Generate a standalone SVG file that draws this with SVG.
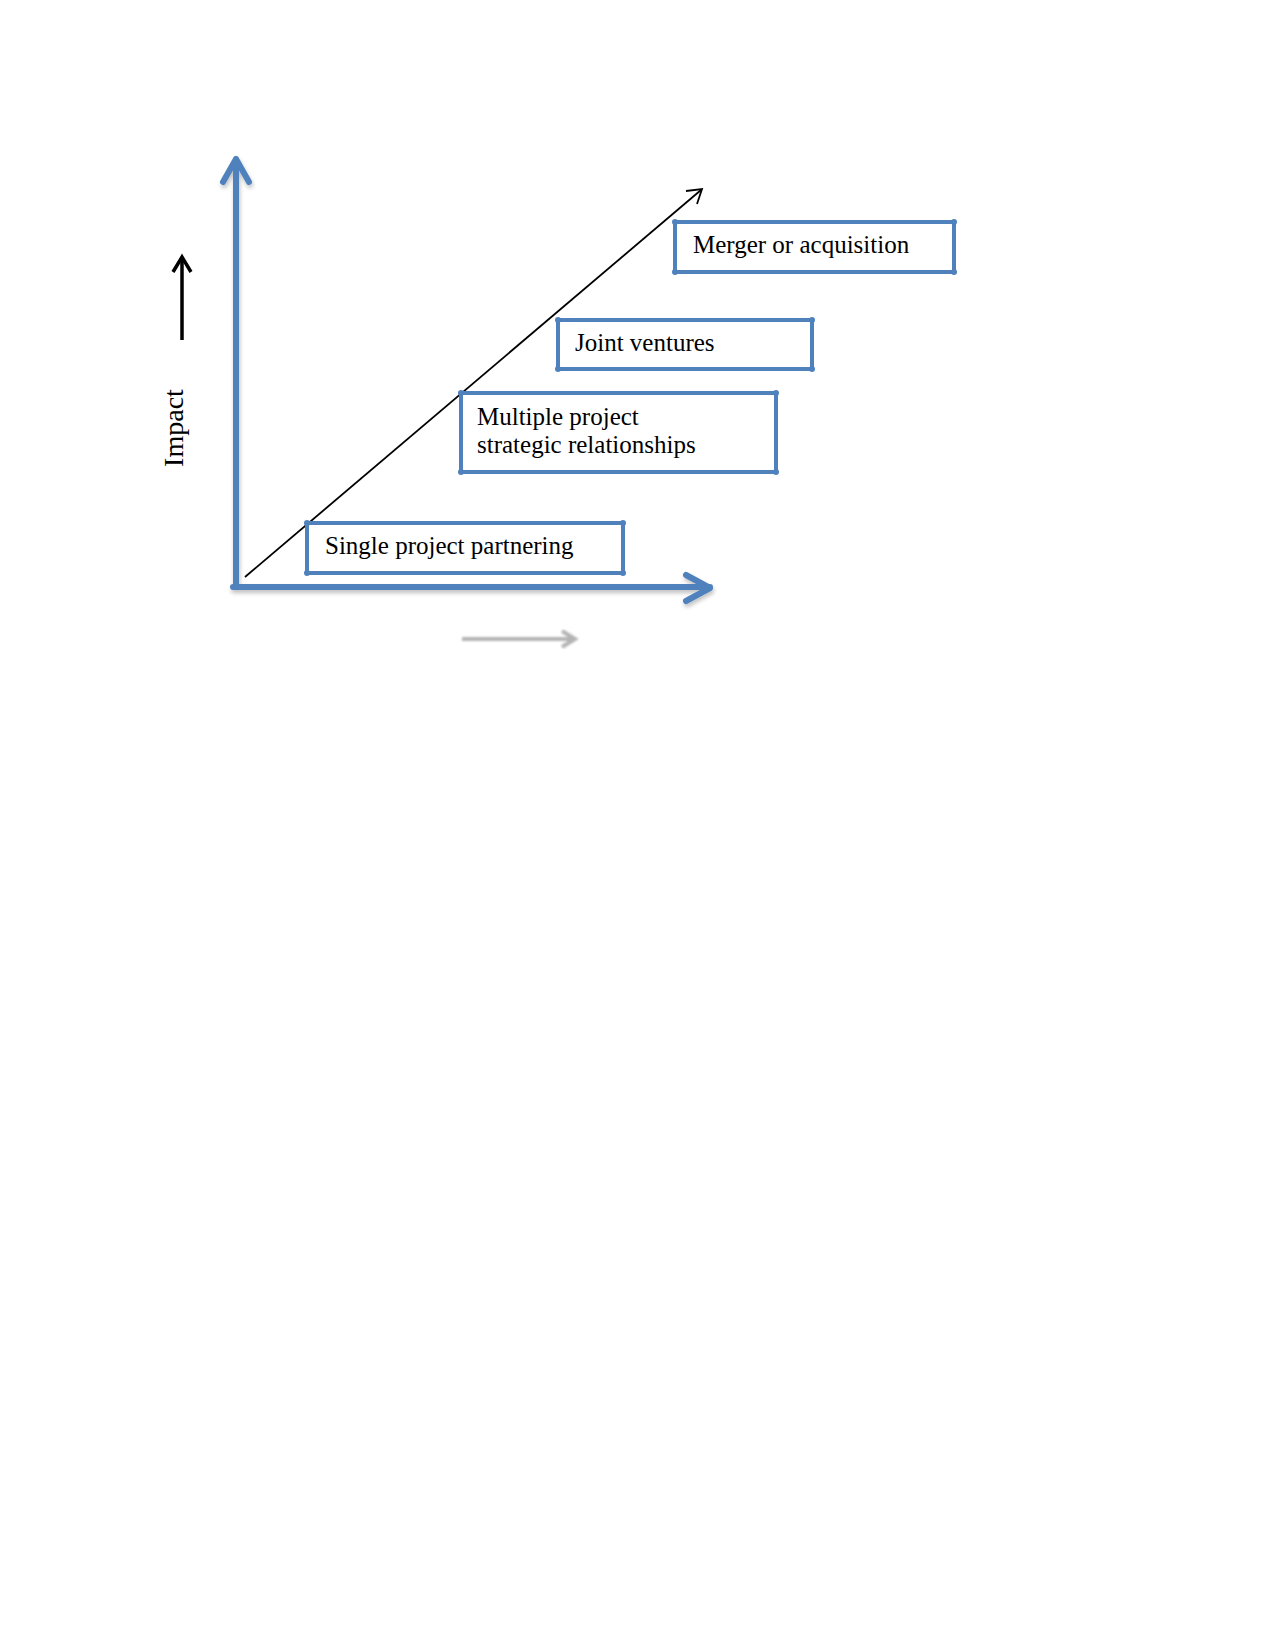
<svg xmlns="http://www.w3.org/2000/svg" width="1275" height="1651" viewBox="0 0 1275 1651">
<style>
.box{fill:#fff;stroke:#4f81bd;stroke-width:4}
.dot{fill:#4f81bd}
.lbl{font-family:"Liberation Serif",serif;font-size:25px;fill:#000}
.axis{fill:none;stroke:#4f81bd;stroke-width:6;stroke-linecap:round;stroke-linejoin:round}
</style>
<defs>
<filter id="sh" x="-10%" y="-10%" width="120%" height="120%">
<feGaussianBlur in="SourceAlpha" stdDeviation="2"/>
<feOffset dx="1" dy="3" result="b"/>
<feComponentTransfer><feFuncA type="linear" slope="0.25"/></feComponentTransfer>
<feMerge><feMergeNode/><feMergeNode in="SourceGraphic"/></feMerge>
</filter>
<filter id="blur"><feGaussianBlur stdDeviation="1.2"/></filter>
</defs>
<rect width="1275" height="1651" fill="#fff"/>
<g id="connectors">
<g id="axes" filter="url(#sh)">
<path class="axis" d="M236 587 V159 M223 182 L236 159 L249 182"/>
<path class="axis" d="M233 587 H710 M686 575 L710 588 L686 601"/>
</g>
<g id="diagonal" fill="none" stroke="#000" stroke-width="1.8">
<path d="M245 577 L701 190"/>
<path d="M686 191 L702 189 L697 204"/>
</g>
<g id="impact-arrow" fill="none" stroke="#000" stroke-width="3.5">
<path d="M182 340 V257"/>
<path d="M173 272 L182 257 L191 272"/>
</g>
<g id="gray-arrow" filter="url(#blur)" fill="none" stroke="#b4b4b4" stroke-width="4">
<path d="M462 639 H572"/>
<path d="M562 631 L575 639 L562 647" stroke-width="4"/>
</g>
</g>
<g id="impact-label">
<text class="lbl" style="font-size:28px" transform="translate(183 428) rotate(-90)" text-anchor="middle">Impact</text>
</g>
<g id="node-single">
<rect class="box" x="307" y="523" width="316" height="50"/>
<circle class="dot" cx="307" cy="523" r="3"/><circle class="dot" cx="623" cy="523" r="3"/><circle class="dot" cx="307" cy="573" r="3"/><circle class="dot" cx="623" cy="573" r="3"/>
<text class="lbl" x="325" y="554">Single project partnering</text>
</g>
<g id="node-multiple">
<rect class="box" x="461" y="393" width="315" height="79"/>
<circle class="dot" cx="461" cy="393" r="3"/><circle class="dot" cx="776" cy="393" r="3"/><circle class="dot" cx="461" cy="472" r="3"/><circle class="dot" cx="776" cy="472" r="3"/>
<text class="lbl" x="477" y="425">Multiple project</text>
<text class="lbl" x="477" y="453">strategic relationships</text>
</g>
<g id="node-joint">
<rect class="box" x="558" y="320" width="254" height="49"/>
<circle class="dot" cx="558" cy="320" r="3"/><circle class="dot" cx="812" cy="320" r="3"/><circle class="dot" cx="558" cy="369" r="3"/><circle class="dot" cx="812" cy="369" r="3"/>
<text class="lbl" x="575" y="351">Joint ventures</text>
</g>
<g id="node-merger">
<rect class="box" x="675" y="222" width="279" height="50"/>
<circle class="dot" cx="675" cy="222" r="3"/><circle class="dot" cx="954" cy="222" r="3"/><circle class="dot" cx="675" cy="272" r="3"/><circle class="dot" cx="954" cy="272" r="3"/>
<text class="lbl" x="693" y="253">Merger or acquisition</text>
</g>
</svg>
